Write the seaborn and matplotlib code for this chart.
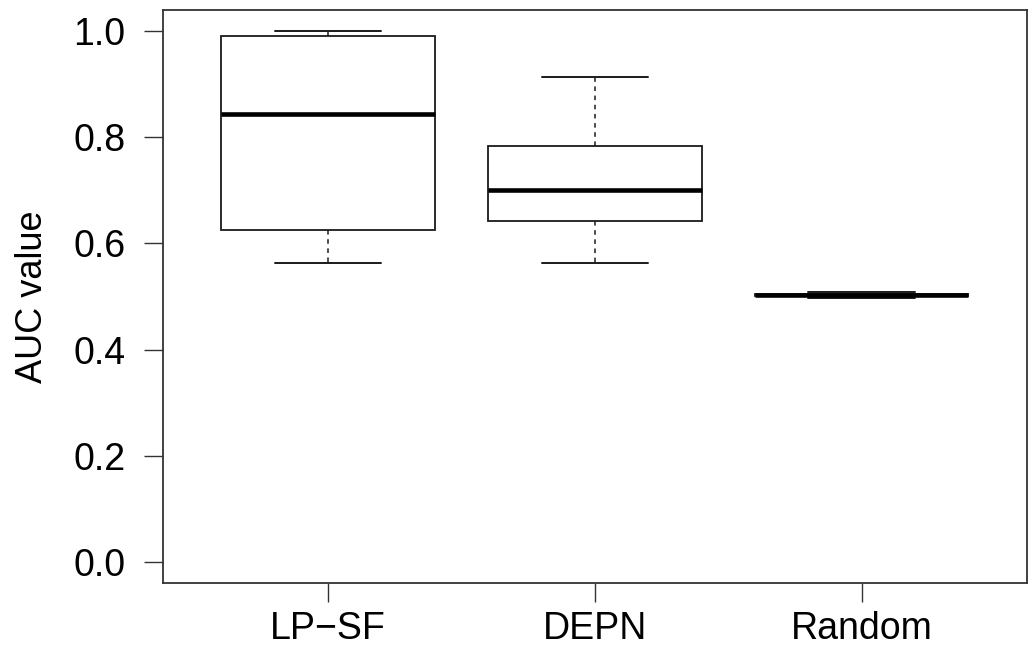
import numpy as np
import pandas as pd
import seaborn as sns
import matplotlib
matplotlib.use("Agg")
import matplotlib.pyplot as plt

# Five-number summaries (min, Q1, median, Q3, max)
categories = ["LP\u2212SF", "DEPN", "Random"]
lpsf_values = [0.564, 0.625, 0.844, 0.991, 1.000]
depn_values = [0.563, 0.642, 0.700, 0.784, 0.914]
random_values = [0.497, 0.501, 0.503, 0.504, 0.508]
y_ticks = [0.0, 0.2, 0.4, 0.6, 0.8, 1.0]
y_label = "AUC value"

df = pd.DataFrame({
    "method": np.repeat(categories, 5),
    "auc": lpsf_values + depn_values + random_values,
})

sns.set_style("white")
plt.rcParams["font.family"] = ["Liberation Sans", "DejaVu Sans"]

fig = plt.figure(figsize=(10.35, 6.45), dpi=100)
ax = fig.add_axes([0.1572, 0.0961, 0.8351, 0.8884])

line_col = "#1a1a1a"
sns.boxplot(
    data=df, x="method", y="auc", order=categories, ax=ax,
    color="white", linecolor=line_col, width=0.8, whis=np.inf,
    showfliers=False, linewidth=1.3,
    boxprops=dict(facecolor="white", edgecolor=line_col, linewidth=1.3),
    whiskerprops=dict(linestyle=(0, (3, 3)), linewidth=1.1, color=line_col),
    capprops=dict(linewidth=1.4, color=line_col),
    medianprops=dict(linewidth=3.3, color="black"),
)

ax.set_xlim(-0.62, 2.62)
ax.set_ylim(-0.04, 1.04)
ax.set_yticks(y_ticks)
ax.set_yticklabels([f"{t:.1f}" for t in y_ticks])
ax.set_xlabel("")
ax.set_ylabel(y_label, fontsize=26, color="black")
ax.yaxis.set_label_coords(-0.13, 0.5)

for s in ax.spines.values():
    s.set_visible(True)
    s.set_color("#333333")
    s.set_linewidth(1.3)

ax.tick_params(axis="both", which="both", direction="out", length=14,
               width=1.0, color="#333333", labelsize=27, labelcolor="black",
               bottom=True, left=True, top=False, right=False)
ax.tick_params(axis="y", pad=13)
ax.tick_params(axis="x", pad=6)
ax.grid(False)

fig.savefig("out.png", dpi=100, facecolor="white")
